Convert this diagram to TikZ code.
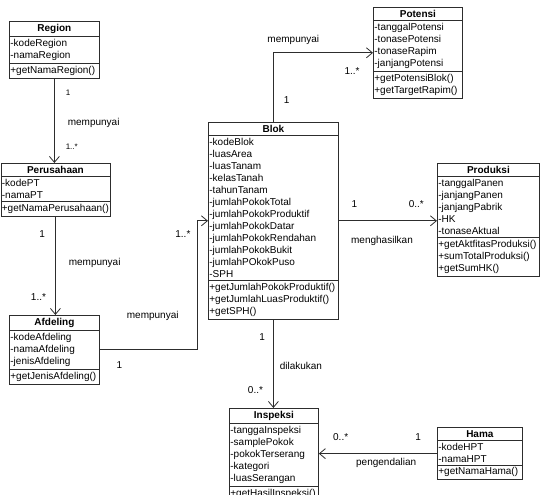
\documentclass[tikz,border=0pt]{standalone}
\usepackage{fontspec}
\setmainfont{Liberation Sans}
\usetikzlibrary{arrows.meta,shapes.multipart}
\definecolor{umlline}{RGB}{45,45,45}
\tikzset{
  cls/.style={draw=umlline,line width=0.8pt,rectangle split,rectangle split parts=3,
              rectangle split part align={center,left,left},align=left,
              anchor=north west,inner xsep=1pt,inner ysep=2.4pt,
              font=\fontsize{10}{12}\selectfont},
  assoc/.style={draw=umlline,line width=0.8pt,-{Straight Barb[length=6pt,width=10pt]}},
  lbl/.style={font=\fontsize{10}{12}\selectfont,inner sep=0pt},
  mini/.style={lbl,font=\fontsize{8}{10}\selectfont},
}

\begin{document}
\begin{tikzpicture}[x=10pt,y=-10pt]
    \useasboundingbox (0,0) rectangle (54.6,49.5);
    % classes
    \node[cls,minimum width=90pt] (reg) at (0.9,2.1)
      {\textbf{Region}\nodepart{two}-kodeRegion\\-namaRegion\nodepart{three}+getNamaRegion()};
    \node[cls,minimum width=108.5pt] (per) at (0.05,16.3)
      {\textbf{Perusahaan}\nodepart{two}-kodePT\\-namaPT\nodepart{three}+getNamaPerusahaan()};
    \node[cls,minimum width=90pt] (afd) at (0.9,31.5)
      {\textbf{Afdeling}\nodepart{two}-kodeAfdeling\\-namaAfdeling\\-jenisAfdeling\nodepart{three}+getJenisAfdeling()};
    \node[cls,minimum width=130pt] (blok) at (20.8,12.2)
      {\textbf{Blok}\nodepart{two}-kodeBlok\\-luasArea\\-luasTanam\\-kelasTanah\\-tahunTanam\\-jumlahPokokTotal\\-jumlahPokokProduktif\\-jumlahPokokDatar\\-jumlahPokokRendahan\\-jumlahPokokBukit\\-jumlahPOkokPuso\\-SPH
       \nodepart{three}+getJumlahPokokProduktif()\\+getJumlahLuasProduktif()\\+getSPH()};
    \node[cls,minimum width=89pt] (pot) at (37.3,0.7)
      {\textbf{Potensi}\nodepart{two}-tanggalPotensi\\-tonasePotensi\\-tonaseRapim\\-janjangPotensi\nodepart{three}+getPotensiBlok()\\+getTargetRapim()};
    \node[cls,minimum width=102pt] (prod) at (43.7,16.3)
      {\textbf{Produksi}\nodepart{two}-tanggalPanen\\-janjangPanen\\-janjangPabrik\\-HK\\-tonaseAktual\nodepart{three}+getAktfitasProduksi()\\+sumTotalProduksi()\\+getSumHK()};
    \node[cls,minimum width=89pt] (insp) at (22.9,40.8)
      {\textbf{Inspeksi}\nodepart{two}-tanggaInspeksi\\-samplePokok\\-pokokTerserang\\-kategori\\-luasSerangan\nodepart{three}+getHasilInspeksi()};
    \node[cls,minimum width=85pt] (hama) at (43.7,42.7)
      {\textbf{Hama}\nodepart{two}-kodeHPT\\-namaHPT\nodepart{three}+getNamaHama()};
    % associations
    \draw[assoc] (reg.south) -- node[mini,pos=.17,right=11pt] (m1a) {1}
      node[lbl,pos=.53,right=13pt] (r1) {mempunyai}
      node[mini,pos=.81,right=11pt] (m1b) {1..*} (reg.south |- per.north);
    \draw[assoc] (per.south) -- node[lbl,pos=.18,left=10pt] (m2a) {1}
      node[lbl,pos=.47,right=13pt] (r2) {mempunyai}
      node[lbl,pos=.82,left=9pt] (m2b) {1..*} (per.south |- afd.north);
    \draw[assoc] (afd.east) -- node[lbl,pos=.2,below=11pt] (m3a) {1}
      node[lbl,pos=.54,above=29pt] (r3) {mempunyai} ++(9.8,0)
      |- node[lbl,pos=.45,left=7pt] (m3b) {1..*} (blok.west);
    \draw[assoc] (blok.north) |- node[lbl,pos=.155,right=10pt] (m4a) {1}
      node[lbl,pos=.6,above=8pt] (r4) {mempunyai}
      node[lbl,pos=.895,below=14pt] (m4b) {1..*} (pot.west);
    \draw[assoc] (blok.east) -- node[lbl,pos=.16,above=13pt] (m5a) {1}
      node[lbl,pos=.79,above=13pt] (m5b) {0..*}
      node[lbl,pos=.44,below=15pt] (r5) {menghasilkan} (blok.east -| prod.west);
    \draw[assoc] (blok.south) -- node[lbl,pos=.2,left=8pt] (m6a) {1}
      node[lbl,pos=.52,right=6pt] (r6) {dilakukan}
      node[lbl,pos=.8,left=10pt] (m6b) {0..*} (blok.south |- insp.north);
    \draw[assoc] (hama.west) -- node[lbl,pos=.16,above=13pt] (m7a) {1}
      node[lbl,pos=.815,above=13pt] (m7b) {0..*}
      node[lbl,pos=.43,below=4pt] (r7) {pengendalian} (hama.west -| insp.east);
\end{tikzpicture}
\end{document}
